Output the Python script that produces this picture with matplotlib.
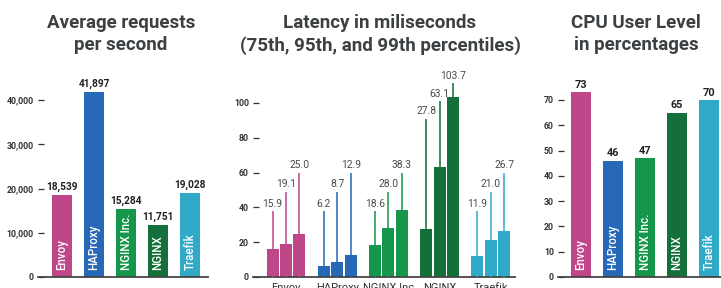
import numpy as np
import matplotlib.pyplot as plt

# data
proxies = ['Envoy', 'HAProxy', 'NGINX Inc.', 'NGINX', 'Traefik']
rps = [18539, 41897, 15284, 11751, 19028]
lat_p75 = [15.9, 6.2, 18.6, 27.8, 11.9]
lat_p95 = [19.1, 8.7, 28.0, 63.1, 21.0]
lat_p99 = [25.0, 12.9, 38.3, 103.7, 26.7]
cpu = [73, 46, 47, 65, 70]

colors = ['#c0468a', '#2769b6', '#14964b', '#146f3a', '#31aac8']
title_c = '#3c4043'
tick_c = '#333333'

W, H = 721, 288
fig = plt.figure(figsize=(W / 100, H / 100), dpi=100)


def px_axes(x0, x1, y_top, y_bot):
    # pixel box (from top-left) -> axes
    return fig.add_axes([x0 / W, 1 - y_bot / H, (x1 - x0) / W, (y_bot - y_top) / H])


def style(ax, yticks, fmt):
    for s in ['top', 'right', 'left']:
        ax.spines[s].set_visible(False)
    ax.spines['bottom'].set_color('#444444')
    ax.spines['bottom'].set_linewidth(1.3)
    ax.set_yticks(yticks)
    ax.set_yticklabels([fmt(v) for v in yticks], fontfamily='Roboto',
                       fontweight='bold', fontsize=6.3, color=tick_c)
    ax.tick_params(axis='y', direction='in', length=4.5, width=0.9,
                   color=tick_c, pad=3)
    ax.tick_params(axis='x', length=0)


def title(x, txt):
    fig.text(x / W, 1 - 14 / H, txt, ha='center', va='top', fontfamily='Roboto',
             fontweight='bold', fontsize=13.5, color=title_c, linespacing=1.3)


# left: requests per second
ax1 = px_axes(38, 208, 60, 277)
x = np.arange(len(proxies))
ax1.bar(x, rps, width=0.625, color=colors)
ax1.set_xlim(-0.75, 4.56)
ax1.set_ylim(0, 217 / 4.42 * 1000)
style(ax1, [0, 10000, 20000, 30000, 40000], lambda v: f'{v:,}')
ax1.set_xticks([])
for i, v in enumerate(rps):
    ax1.text(i, v + 700, f'{v:,}', ha='center', va='bottom', fontfamily='Roboto',
             fontweight='bold', fontsize=7.3, color='#222222')
    ax1.text(i, 1500, proxies[i], rotation=90, ha='center', va='bottom',
             fontfamily='Roboto', fontweight='medium', fontsize=8.3, color='white')
title(121, 'Average requests\nper second')

# middle: latency
ax2 = px_axes(253, 515, 60, 277)
lat = [lat_p75, lat_p95, lat_p99]
leader_tops = [[38, 49, 60]] * 3 + [[91, 101, 111.5]] + [[38, 49, 60]]
bw = 0.234
offs = [-0.263, 0, 0.263]
for k in range(3):
    ax2.bar(x + offs[k], lat[k], width=bw, color=colors)
for i in range(len(proxies)):
    for k in range(3):
        xp = i + offs[k]
        top = leader_tops[i][k]
        ax2.plot([xp, xp], [0, top], color=colors[i], lw=1.4, alpha=0.8,
                 solid_capstyle='butt', zorder=3)
        ax2.text(xp, top + 1.3, f'{lat[k][i]:.1f}', ha='center', va='bottom',
                 fontfamily='Roboto', fontsize=7.4, color='#4a4a4a')
ax2.set_xlim(-0.644, 4.47)
ax2.set_ylim(0, 217 / 1.74)
style(ax2, [0, 20, 40, 60, 80, 100], lambda v: f'{v}')
ax2.set_xticks(x)
ax2.set_xticklabels([p.rstrip('.') for p in proxies], fontfamily='Roboto',
                    fontsize=8, color='#333333')
ax2.tick_params(axis='x', pad=4)
title(380, 'Latency in miliseconds\n(75th, 95th, and 99th percentiles)')

# right: cpu
ax3 = px_axes(558, 721, 60, 277)
ax3.bar(x, cpu, width=0.625, color=colors)
ax3.set_xlim(-0.72, 4.375)
ax3.set_ylim(0, 217 / 2.53)
style(ax3, [0, 10, 20, 30, 40, 50, 60, 70], lambda v: f'{v}')
ax3.set_xticks([])
for i, v in enumerate(cpu):
    ax3.text(i, v + 0.9, f'{v}', ha='center', va='bottom', fontfamily='Roboto',
             fontweight='bold', fontsize=7.8, color='#222222')
    ax3.text(i, 2.6, proxies[i], rotation=90, ha='center', va='bottom',
             fontfamily='Roboto', fontweight='medium', fontsize=8.3, color='white')
title(636, 'CPU User Level\nin percentages')

fig.savefig('out.png', dpi=100)
